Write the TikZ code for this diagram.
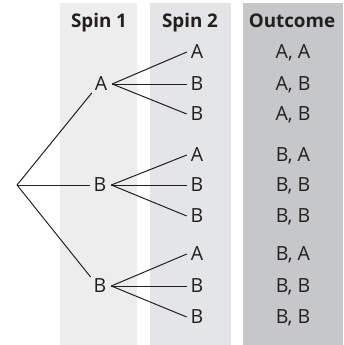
\documentclass[tikz,border=0pt]{standalone}
\usepackage{fontspec}
\setmainfont{Open Sans}
\definecolor{ink}{HTML}{231F20}
\definecolor{bandone}{HTML}{EDEDED}
\definecolor{bandtwo}{HTML}{E4E5E7}
\definecolor{bandout}{HTML}{C6C7C9}
\begin{document}
\begin{tikzpicture}[x=1pt,y=-1pt,
  lbl/.style={inner sep=0pt, outer sep=0pt, text=ink, text height=13.8pt, text depth=0pt,
    font=\fontsize{19.5}{21}\selectfont},
  head/.style={inner sep=0pt, text=ink, text height=13.8pt, text depth=0pt,
    font=\fontsize{18.8}{21}\selectfont\bfseries},
  branch/.style={draw=ink, line width=1pt}]
\useasboundingbox (0,0) rectangle (343,345);
% column bands
\fill[bandone] (60,3) rectangle (137,345);
\fill[bandtwo] (150,3) rectangle (231,345);
\fill[bandout] (243,3) rectangle (343,345);
% headers
\node[head] (h1) at (99,20.5) {Spin 1};
\node[head] (h2) at (190,20.5) {Spin 2};
\node[head] (h3) at (292,20.5) {Outcome};
% root and first spin
\coordinate (root) at (17,185);
\node[lbl] (a) at (101,84) {A};
\node[lbl] (b) at (100,185) {B};
\node[lbl] (c) at (100,286) {B};
% second spin
\node[lbl] (aa) at (197,52) {A};
\node[lbl] (ab) at (197,84) {B};
\node[lbl] (ac) at (197,114) {B};
\node[lbl] (ba) at (197,155) {A};
\node[lbl] (bb) at (197,185) {B};
\node[lbl] (bc) at (197,216) {B};
\node[lbl] (ca) at (197,254) {A};
\node[lbl] (cb) at (197,286) {B};
\node[lbl] (cc) at (197,317) {B};
% outcomes
\node[lbl] (oaa) at (293,52) {A, A};
\node[lbl] (oab) at (293,84) {A, B};
\node[lbl] (oac) at (293,114) {A, B};
\node[lbl] (oba) at (293,155) {B, A};
\node[lbl] (obb) at (293,185) {B, B};
\node[lbl] (obc) at (293,216) {B, B};
\node[lbl] (oca) at (293,254) {B, A};
\node[lbl] (ocb) at (293,286) {B, B};
\node[lbl] (occ) at (293,317) {B, B};
% branches from the root
\draw[branch] (root) -- ([xshift=-3pt,yshift=-2pt]a.south west);
\draw[branch] (root) -- ([xshift=-4pt]b.west);
\draw[branch] (root) -- ([xshift=-3pt,yshift=2pt]c.north west);
% branches to the second spin
\foreach \p/\q in {a/aa,a/ab,a/ac,b/ba,b/bb,b/bc,c/ca,c/cb,c/cc}
  \draw[branch] ([xshift=5pt]\p.east) -- ([xshift=-4pt]\q.west);
\end{tikzpicture}
\end{document}
